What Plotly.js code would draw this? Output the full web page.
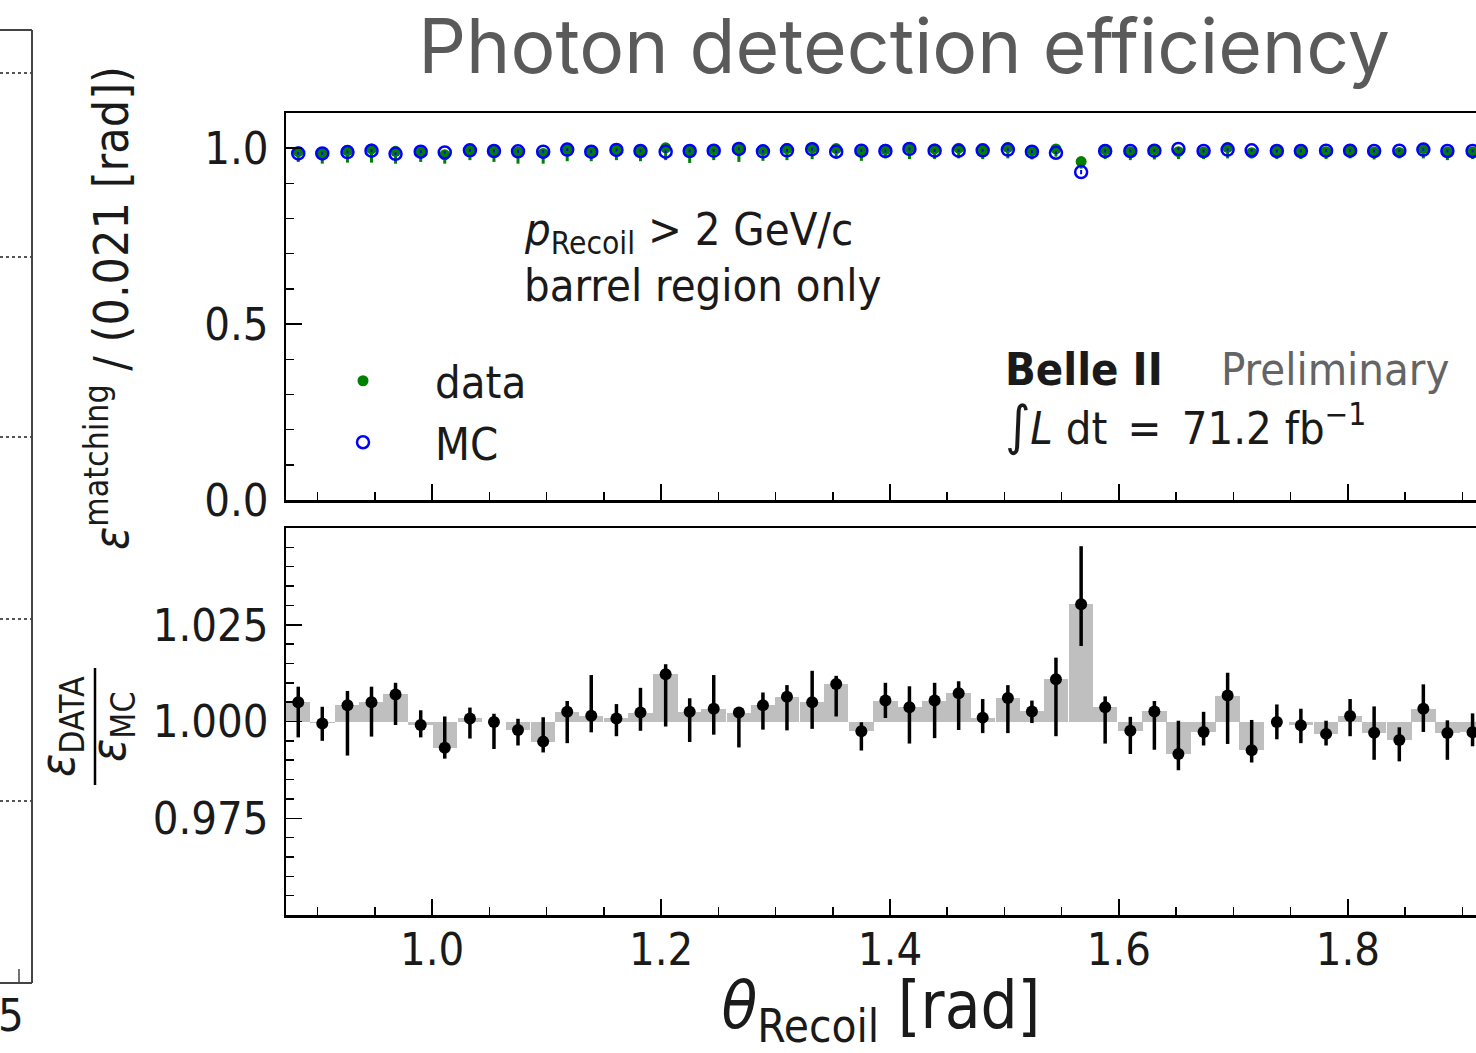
<!DOCTYPE html>
<html>
<head>
<meta charset="utf-8">
<script src="https://cdn.plot.ly/plotly-3.0.1.min.js"></script>
<style>html,body{margin:0;padding:0;background:#fff;}#chart{width:1476px;height:1053px;}</style>
</head>
<body>
<div id="chart"></div>
<script>
// ---- data ----
const thetaCenters = [0.883,0.904,0.926,0.947,0.968,0.990,1.011,1.033,1.054,1.075,1.097,1.118,1.139,1.161,1.182,1.204,1.225,1.246,1.268,1.289,1.310,1.332,1.353,1.375,1.396,1.417,1.439,1.460,1.481,1.503,1.524,1.545,1.567,1.588,1.610,1.631,1.652,1.674,1.695,1.716,1.738,1.759,1.781,1.802,1.823,1.845,1.866,1.887,1.909];
const binWidth = 0.02137;

const effData = [0.990,0.985,0.993,0.998,0.991,0.989,0.981,0.995,0.992,0.989,0.985,0.998,0.992,0.996,0.994,1.001,0.994,0.996,0.999,0.995,0.999,1.001,0.999,0.991,0.997,1.001,0.998,1.000,0.995,1.002,0.993,0.998,0.962,0.996,0.990,0.996,0.990,0.989,1.002,0.987,0.992,0.991,0.990,0.994,0.989,0.988,0.999,0.989,0.989];
const effDataErrLow = [0.029,0.029,0.034,0.039,0.035,0.028,0.025,0.029,0.031,0.033,0.029,0.035,0.029,0.030,0.031,0.035,0.036,0.030,0.038,0.031,0.033,0.032,0.028,0.027,0.026,0.032,0.029,0.029,0.026,0.031,0.025,0.022,0.020,0.027,0.024,0.028,0.021,0.020,0.031,0.016,0.023,0.022,0.021,0.023,0.021,0.017,0.028,0.023,0.020];
const effDataErrHigh = [0.004,0.004,0.004,0.004,0.004,0.004,0.004,0.004,0.004,0.004,0.004,0.004,0.004,0.004,0.004,0.004,0.004,0.004,0.004,0.004,0.004,0.004,0.004,0.004,0.004,0.004,0.004,0.004,0.004,0.004,0.004,0.004,0.005,0.004,0.004,0.004,0.004,0.004,0.004,0.004,0.004,0.004,0.004,0.004,0.004,0.004,0.004,0.004,0.004];

const effMC = [0.985,0.985,0.989,0.993,0.984,0.990,0.988,0.994,0.992,0.991,0.990,0.996,0.990,0.995,0.992,0.990,0.992,0.993,0.998,0.991,0.994,0.997,0.990,0.993,0.992,0.998,0.993,0.993,0.994,0.996,0.990,0.987,0.932,0.992,0.992,0.993,0.998,0.992,0.996,0.994,0.992,0.992,0.993,0.993,0.992,0.993,0.996,0.992,0.992];
const effMCErr = [0.004,0.004,0.004,0.004,0.004,0.004,0.004,0.004,0.004,0.004,0.004,0.004,0.004,0.004,0.004,0.004,0.004,0.004,0.004,0.004,0.004,0.004,0.004,0.004,0.004,0.004,0.004,0.004,0.004,0.004,0.004,0.004,0.006,0.004,0.004,0.004,0.004,0.004,0.004,0.004,0.004,0.004,0.004,0.004,0.004,0.004,0.004,0.004,0.004];

const ratio = [1.0050,0.9995,1.0042,1.0050,1.0070,0.9991,0.9932,1.0008,0.9999,0.9978,0.9948,1.0025,1.0015,1.0008,1.0023,1.0122,1.0025,1.0033,1.0023,1.0042,1.0064,1.0050,1.0097,0.9975,1.0054,1.0037,1.0054,1.0073,1.0010,1.0061,1.0026,1.0109,1.0303,1.0037,0.9976,1.0026,0.9916,0.9973,1.0067,0.9926,0.9999,0.9990,0.9968,1.0014,0.9971,0.9952,1.0033,0.9970,0.9972];
const ratioErrHigh = [0.0040,0.0043,0.0037,0.0040,0.0030,0.0038,0.0081,0.0028,0.0021,0.0029,0.0063,0.0028,0.0105,0.0037,0.0064,0.0026,0.0035,0.0087,0.0007,0.0033,0.0030,0.0081,0.0021,0.0023,0.0046,0.0054,0.0046,0.0031,0.0048,0.0033,0.0028,0.0056,0.0150,0.0028,0.0036,0.0027,0.0086,0.0052,0.0059,0.0078,0.0045,0.0043,0.0034,0.0044,0.0068,0.0033,0.0063,0.0033,0.0049];
const ratioErrLow = [0.0091,0.0045,0.0130,0.0089,0.0079,0.0032,0.0028,0.0052,0.0070,0.0040,0.0028,0.0081,0.0043,0.0046,0.0047,0.0135,0.0078,0.0067,0.0090,0.0063,0.0087,0.0069,0.0084,0.0050,0.0045,0.0094,0.0097,0.0095,0.0040,0.0091,0.0030,0.0147,0.0108,0.0094,0.0060,0.0099,0.0042,0.0035,0.0125,0.0032,0.0045,0.0046,0.0030,0.0052,0.0070,0.0055,0.0060,0.0069,0.0036];

const xTickVals = [1.0,1.2,1.4,1.6,1.8];
const yTopTickVals = [0.0,0.5,1.0];
const yBotTickVals = [0.975,1.000,1.025];
const leftPanelGridY = [73,257,437,619,801];

// ---- layout helpers ----
const FONT = '"DejaVu Sans Condensed", "DejaVu Sans", sans-serif';
const FS = 45;
const INK = '#1a1a1a';
const L = 286, T = 113, W = 1190, H = 802;
const px = v => (v - L) / W;
const py = v => (T + H - v) / H;

const traces = [
  {
    x: thetaCenters, y: effData, type: 'scatter', mode: 'markers', name: 'data',
    xaxis: 'x', yaxis: 'y',
    marker: {color: 'rgb(0,128,0)', size: 11, symbol: 'circle'},
    error_y: {type: 'data', symmetric: false, array: effDataErrHigh, arrayminus: effDataErrLow, color: 'rgb(0,128,0)', thickness: 3, width: 0},
    hoverinfo: 'skip'
  },
  {
    x: thetaCenters, y: effMC, type: 'scatter', mode: 'markers', name: 'MC',
    xaxis: 'x', yaxis: 'y',
    marker: {color: 'rgb(0,0,255)', size: 12, symbol: 'circle-open', line: {color: 'rgb(0,0,255)', width: 2.5}},
    error_y: {type: 'data', array: effMCErr, color: 'rgb(0,0,255)', thickness: 2, width: 0},
    hoverinfo: 'skip'
  },
  {
    x: thetaCenters, y: ratio.map(r => r - 1), base: 1, type: 'bar', width: binWidth,
    xaxis: 'x2', yaxis: 'y2', showlegend: false,
    marker: {color: 'rgb(191,191,191)', line: {width: 0}},
    hoverinfo: 'skip'
  },
  {
    x: thetaCenters, y: ratio, type: 'scatter', mode: 'markers',
    xaxis: 'x2', yaxis: 'y2', showlegend: false,
    marker: {color: 'black', size: 12},
    error_y: {type: 'data', symmetric: false, array: ratioErrHigh, arrayminus: ratioErrLow, color: 'black', thickness: 3.5, width: 0},
    hoverinfo: 'skip'
  }
];

const axisCommon = {
  showgrid: false, zeroline: false, showline: true, linecolor: 'black', linewidth: 2.5,
  ticks: 'inside', ticklen: 16, tickwidth: 1.5, tickcolor: 'black',
  tickfont: {family: FONT, size: FS, color: INK}
};
const minorCommon = {ticks: 'inside', ticklen: 8, tickwidth: 1.5, tickcolor: 'black', tickmode: 'linear'};

const layout = {
  width: 1476, height: 1053,
  margin: {l: L, r: 0, t: T, b: 1053 - T - H, pad: 0},
  paper_bgcolor: 'white', plot_bgcolor: 'white',
  showlegend: true,
  bargap: 0,
  title: {
    text: 'Photon detection efficiency',
    font: {family: 'Inter, "Liberation Sans", sans-serif', size: 75, color: 'rgb(90,90,90)'},
    x: 904 / 1476, xref: 'container', xanchor: 'center',
    y: 1 - 47 / 1053, yref: 'container', yanchor: 'middle'
  },
  legend: {
    x: px(291), y: py(345), xanchor: 'left', yanchor: 'top',
    font: {family: FONT, size: FS, color: INK},
    bgcolor: 'rgba(0,0,0,0)', borderwidth: 0, itemwidth: 134
  },
  xaxis: Object.assign({}, axisCommon, {
    domain: [0, 1], anchor: 'y', range: [0.8723, 1.912],
    tickmode: 'array', tickvals: xTickVals, showticklabels: false, mirror: true,
    minor: Object.assign({}, minorCommon, {tick0: 0.9, dtick: 0.05})
  }),
  yaxis: Object.assign({}, axisCommon, {
    domain: [py(500), 1], anchor: 'x', range: [0, 1.1],
    tickmode: 'array', tickvals: yTopTickVals, tickformat: '.1f', ticklabelstandoff: 6,
    minor: Object.assign({}, minorCommon, {tick0: 0, dtick: 0.1})
  }),
  xaxis2: Object.assign({}, axisCommon, {
    domain: [0, 1], anchor: 'y2', range: [0.8723, 1.912], matches: 'x',
    tickmode: 'array', tickvals: xTickVals, tickformat: '.1f', mirror: true, ticklabelstandoff: -7,
    minor: Object.assign({}, minorCommon, {tick0: 0.9, dtick: 0.05}),
    title: {text: '<i>θ</i><sub>Recoil</sub> [rad]', font: {family: FONT, size: 65, color: INK}, standoff: 12}
  }),
  yaxis2: Object.assign({}, axisCommon, {
    domain: [0, py(528)], anchor: 'x2', range: [0.95, 1.05],
    tickmode: 'array', tickvals: yBotTickVals, tickformat: '.3f', ticklabelstandoff: 6,
    minor: Object.assign({}, minorCommon, {tick0: 0.95, dtick: 0.005})
  }),
  shapes: [],
  annotations: []
};

const ann = (text, x, y, opts) => Object.assign({
  text: text, xref: 'paper', yref: 'paper', x: px(x), y: py(y),
  xanchor: 'left', yanchor: 'middle', showarrow: false,
  font: {family: FONT, size: FS, color: INK}
}, opts || {});

layout.annotations.push(
  ann('<i>p</i><sub>Recoil</sub> > 2 GeV/c', 522, 232),
  ann('barrel region only', 522, 285),
  ann('<b>Belle II</b>', 1003, 369),
  ann('Preliminary', 1219, 369, {font: {family: FONT, size: FS, color: 'rgb(100,100,100)'}}),
  ann('<span style="font-size:54px">∫</span><i>L</i> dt\u2002=\u200271.2 fb<sup>−1</sup>', 1003, 425),
  ann('<i>ε</i><sup>matching</sup> / (0.021 [rad])', 108, 308, {xanchor: 'center', textangle: -90, font: {family: FONT, size: 48, color: INK}}),
  ann('<i>ε</i><sub>DATA</sub>', 60, 727, {xanchor: 'center', textangle: -90, font: {family: FONT, size: 48, color: INK}}),
  ann('<i>ε</i><sub>MC</sub>', 111, 727, {xanchor: 'center', textangle: -90, font: {family: FONT, size: 48, color: INK}}),
  ann('5', 11, 1015, {xanchor: 'center'})
);

// fraction bar of the ratio axis label
layout.shapes.push({type: 'line', xref: 'paper', yref: 'paper', x0: px(95), x1: px(95), y0: py(668), y1: py(785), line: {color: 'black', width: 2.5}});

// partial neighbouring panel at the far left
const edge = {color: '#444', width: 2};
layout.shapes.push(
  {type: 'line', xref: 'paper', yref: 'paper', x0: px(32), x1: px(32), y0: py(30), y1: py(983), line: edge},
  {type: 'line', xref: 'paper', yref: 'paper', x0: px(0), x1: px(32), y0: py(30), y1: py(30), line: edge},
  {type: 'line', xref: 'paper', yref: 'paper', x0: px(0), x1: px(32), y0: py(983), y1: py(983), line: edge},
  {type: 'line', xref: 'paper', yref: 'paper', x0: px(19), x1: px(19), y0: py(969), y1: py(983), line: {color: '#444', width: 1.5}}
);
leftPanelGridY.forEach(g => layout.shapes.push(
  {type: 'line', xref: 'paper', yref: 'paper', x0: px(0), x1: px(31), y0: py(g), y1: py(g), line: {color: '#555', width: 2, dash: 'dot'}}
));

Plotly.newPlot('chart', traces, layout, {staticPlot: true, displayModeBar: false});
</script>
</body>
</html>
